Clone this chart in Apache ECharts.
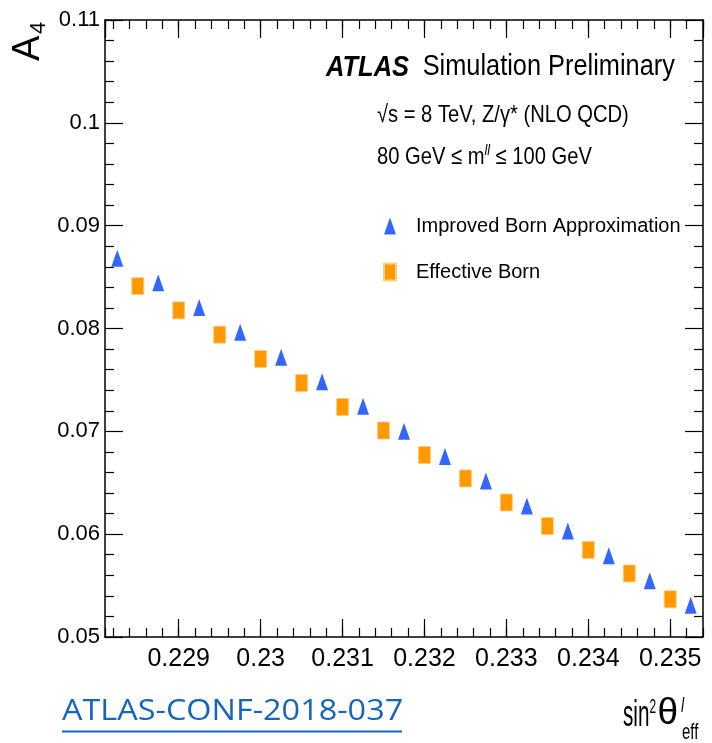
<!DOCTYPE html>
<html>
<head>
<meta charset="utf-8">
<script src="https://cdn.jsdelivr.net/npm/echarts@6/dist/echarts.min.js"></script>
<style>
html,body{margin:0;padding:0;background:#fff;}
#chart{width:712px;height:743px;}
</style>
</head>
<body>
<div id="chart"></div>
<script>
// ---- data ----
const xTriangle = [0.22825, 0.22875, 0.22925, 0.22975, 0.23025, 0.23075, 0.23125, 0.23175,
                   0.23225, 0.23275, 0.23325, 0.23375, 0.23425, 0.23475, 0.23525];
const yTriangle = [0.08684, 0.08444, 0.08205, 0.07964, 0.07721, 0.07483, 0.07244, 0.07001,
                   0.06756, 0.06517, 0.06273, 0.06030, 0.05790, 0.05547, 0.05308];
const xSquare = [0.2285, 0.2290, 0.2295, 0.2300, 0.2305, 0.2310, 0.2315,
                 0.2320, 0.2325, 0.2330, 0.2335, 0.2340, 0.2345, 0.2350];
const ySquare = [0.08412, 0.08176, 0.07940, 0.07704, 0.07470, 0.07237, 0.07008,
                 0.06770, 0.06542, 0.06308, 0.06079, 0.05847, 0.05618, 0.05367];
const seriesNames = ['Improved Born Approximation', 'Effective Born'];
const xRange = [0.2281, 0.2354];
const yRange = [0.05, 0.11];
const yTickStep = 0.01;

const triData = xTriangle.map((x, i) => [x, yTriangle[i]]);
const sqData = xSquare.map((x, i) => [x, ySquare[i]]);

const SANS = '"Liberation Sans", Arial, sans-serif';

const chart = echarts.init(document.getElementById('chart'), null, {renderer: 'canvas'});

const grid = {left: 105, right: 9, top: 20, bottom: 106, containLabel: false};

function xAxisMajor(pos, showLabel) {
  return {
    type: 'value', position: pos, min: xRange[0], max: xRange[1], splitNumber: 7,
    axisLine: {show: true, onZero: false, lineStyle: {color: '#000', width: 1.5}},
    axisTick: {show: true, inside: true, length: 18, lineStyle: {color: '#000', width: 1.2}},
    minorTick: {show: false},
    splitLine: {show: false},
    axisLabel: {show: showLabel, showMinLabel: false, showMaxLabel: false, color: '#000',
      fontFamily: SANS, fontSize: 25, margin: 10}
  };
}
function xAxisMinor(pos) {
  return {
    type: 'value', position: pos, min: xRange[0], max: xRange[1], splitNumber: 36,
    axisLine: {show: false, onZero: false},
    axisTick: {show: true, inside: true, length: 9, lineStyle: {color: '#000', width: 1.2}},
    splitLine: {show: false},
    axisLabel: {show: false}
  };
}
function yAxisDef(pos, showLabel) {
  return {
    type: 'value', position: pos, min: yRange[0], max: yRange[1], interval: yTickStep,
    axisLine: {show: true, onZero: false, lineStyle: {color: '#000', width: 1.5}},
    axisTick: {show: true, inside: true, length: 18, lineStyle: {color: '#000', width: 1.2}},
    minorTick: {show: true, splitNumber: 5, length: 9, lineStyle: {color: '#000', width: 1.2}},
    splitLine: {show: false},
    axisLabel: {show: showLabel, color: '#000', fontFamily: SANS, fontSize: 22, margin: 5}
  };
}

const option = {
  animation: false,
  backgroundColor: '#fff',
  grid: grid,
  xAxis: [xAxisMajor('bottom', true), xAxisMinor('bottom'), xAxisMajor('top', false), xAxisMinor('top')],
  yAxis: [yAxisDef('left', true), yAxisDef('right', false)],
  legend: {
    orient: 'vertical', left: 378, top: 211, itemWidth: 12, itemHeight: 17, itemGap: 26,
    selectedMode: false,
    textStyle: {fontFamily: SANS, fontSize: 20, color: '#000', padding: [0, 0, 0, 15]},
    data: seriesNames
  },
  series: [
    {name: seriesNames[0], type: 'scatter', symbol: 'triangle', symbolSize: [12, 17],
     itemStyle: {color: '#3366ff', opacity: 1}, data: triData, z: 3},
    {name: seriesNames[1], type: 'scatter', symbol: 'rect', symbolSize: [12, 17],
     itemStyle: {color: '#ff9900', opacity: 1, borderColor: '#ffcf80', borderWidth: 0.8}, data: sqData, z: 3}
  ],
  graphic: [
    {type: 'text', x: 29, y: 61, rotation: Math.PI / 2,
     style: {text: 'A', font: '38px ' + SANS, fill: '#000', textAlign: 'left', textVerticalAlign: 'middle'}},
    {type: 'text', x: 39, y: 34, rotation: Math.PI / 2,
     style: {text: '4', font: '22px ' + SANS, fill: '#000', textAlign: 'left', textVerticalAlign: 'middle'}},
    {type: 'text', x: 326, y: 68, scaleX: 0.85,
     style: {text: 'ATLAS', font: 'italic bold 30px ' + SANS, fill: '#000', textAlign: 'left', textVerticalAlign: 'middle'}},
    {type: 'text', x: 422.7, y: 67, scaleX: 0.845,
     style: {text: 'Simulation Preliminary', font: '30px ' + SANS, fill: '#000', textAlign: 'left', textVerticalAlign: 'middle'}},
    {type: 'text', x: 377, y: 115, scaleX: 0.84,
     style: {text: '√s = 8 TeV, Z/γ* (NLO QCD)', font: '24px ' + SANS, fill: '#000', textAlign: 'left', textVerticalAlign: 'middle'}},
    {type: 'text', x: 377, y: 157, scaleX: 0.84,
     style: {text: '{n|80 GeV ≤ m}{s|ll}{n| ≤ 100 GeV}', fill: '#000', textAlign: 'left', textVerticalAlign: 'middle',
       rich: {n: {font: '24px ' + SANS, fill: '#000'}, s: {font: 'italic 15px ' + SANS, fill: '#000', padding: [0, 0, 12, 0]}}}},
    {type: 'text', x: 623, y: 716, scaleX: 0.56,
     style: {text: 'sin', font: '37px ' + SANS, fill: '#000', textAlign: 'left', textVerticalAlign: 'middle'}},
    {type: 'text', x: 649.5, y: 707, scaleX: 0.6,
     style: {text: '2', font: '20px ' + SANS, fill: '#000', textAlign: 'left', textVerticalAlign: 'middle'}},
    {type: 'text', x: 657.5, y: 714, scaleX: 1.0,
     style: {text: 'θ', font: '37px ' + SANS, fill: '#000', textAlign: 'left', textVerticalAlign: 'middle'}},
    {type: 'text', x: 681, y: 706, scaleX: 0.7,
     style: {text: 'l', font: 'italic 20px ' + SANS, fill: '#000', textAlign: 'left', textVerticalAlign: 'middle'}},
    {type: 'text', x: 682, y: 733, scaleX: 0.68,
     style: {text: 'eff', font: '22px ' + SANS, fill: '#000', textAlign: 'left', textVerticalAlign: 'middle'}},
    {type: 'text', x: 62, y: 711, scaleX: 1.08,
     style: {text: 'ATLAS-CONF-2018-037', font: '30px "Open Sans", "Noto Sans", sans-serif', fill: '#1565c0', textAlign: 'left', textVerticalAlign: 'middle'}},
    {type: 'line', shape: {x1: 62, y1: 731.5, x2: 402, y2: 731.5}, style: {stroke: '#1565c0', lineWidth: 2}}
  ]
};
chart.setOption(option);
</script>
</body>
</html>
